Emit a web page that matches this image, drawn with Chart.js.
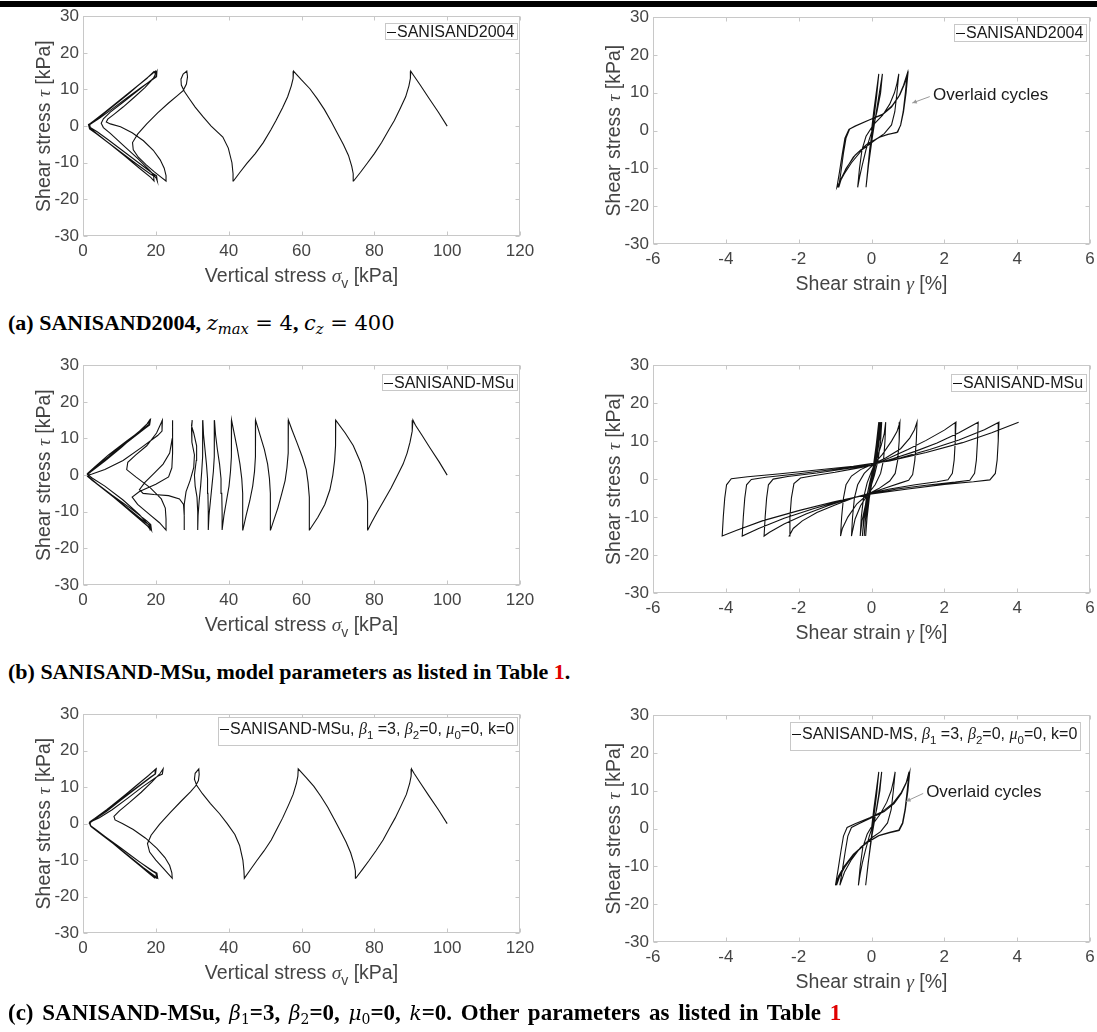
<!DOCTYPE html>
<html>
<head>
<meta charset="utf-8">
<script src="https://cdn.jsdelivr.net/npm/chart.js@4.4.1/dist/chart.umd.min.js"></script>
<style>
  html, body { margin: 0; padding: 0; background: #fff; overflow: hidden; }
  body { width: 1097px; height: 1032px; position: relative; }
  canvas { position: absolute; }
  .bar { position: absolute; left: 0; top: 1px; width: 1097px; height: 6px; background: #000; }
  .cap { position: absolute; left: 8px; font-family: "Liberation Serif", "Times New Roman", serif; font-size: 22px; line-height: 22px; white-space: nowrap; color: #000; }
  .cap .m { font-family: "DejaVu Serif", serif; font-weight: normal; font-size: 20px; }
  .cap .m.big { font-size: 21px; }
  .cap i { font-style: italic; font-weight: normal; }
  .cap sub { font-size: 0.7em; vertical-align: -0.3em; line-height: 0; }
  .red { color: #e00000; }
</style>
</head>
<body>
<div class="bar"></div>
<canvas id="pathA"></canvas>
<canvas id="loopA"></canvas>
<canvas id="pathB"></canvas>
<canvas id="loopB"></canvas>
<canvas id="pathC"></canvas>
<canvas id="loopC"></canvas>

<div class="cap" style="top:312px"><b>(a) SANISAND2004,</b> <span class="m big"><i>z</i><sub><i>max</i></sub> = 4</span><b>,</b> <span class="m big"><i>c</i><sub><i>z</i></sub> = 400</span></div>
<div class="cap" style="top:661px"><b>(b) SANISAND-MSu, model parameters as listed in Table <span class="red">1</span>.</b></div>
<div class="cap" style="top:1002px; font-size:23px; word-spacing:3px"><b>(c) SANISAND-MSu, </b><span class="m"><i>β</i><sub>1</sub></span><b>=3, </b><span class="m"><i>β</i><sub>2</sub></span><b>=0, </b><span class="m"><i>μ</i><sub>0</sub></span><b>=0, </b><span class="m"><i>k</i></span><b>=0. Other parameters as listed in Table <span class="red">1</span></b></div>

<script>
// tick values
const stressTicks = [-30, -20, -10, 0, 10, 20, 30];
const sigmaTicks = [0, 20, 40, 60, 80, 100, 120];
const strainTicks = [-6, -4, -2, 0, 2, 4, 6];

// (a) SANISAND2004 : vertical stress / shear stress
const path2004 = [
  [100,0],[97.6,3.8],[95,7.6],[92.6,11.2],[90.8,13.8],[90,15],
  [89.9,13],[89.5,11],[88.6,8],[87.2,5],[85.5,1.5],[84,-1],[82,-4.5],[80,-7.5],[78,-10.2],[76.2,-12.6],[74.3,-15],
  [74.2,-13],[73.8,-11],[72.9,-8],[71.5,-5],[69.6,-1.5],[68.3,1],[66.3,4.5],[64.3,7.5],[62.3,10.2],[60,12.6],[57.8,15],
  [57.7,13],[57.2,11],[56.2,8],[54.8,5],[53,1.5],[51.6,-1],[49.5,-4.5],[47.3,-7.5],[45,-10.2],[43.1,-12.6],[41.3,-15],
  [41.2,-13],[40.9,-10],[39.9,-6],[38.4,-3],[35.2,0],[33,2.5],[30.8,5.2],[29.1,7.6],[27.8,9.5],[27,11.2],[26.9,12.8],[27.5,14.2],[28.5,15],
  [28.7,13.5],[28.4,11.5],[27.5,9.7],[26,8.4],[23.5,6.3],[20.5,3.6],[17.5,0.6],[15,-2.2],[13.6,-4.5],[13.8,-6.5],[15.2,-8.5],[17.3,-10.5],[19.6,-12.5],[21.5,-14],[22.8,-15],
  [22.8,-13.5],[22.3,-11.5],[21.2,-9.2],[19.3,-6.6],[16.6,-4],[13.5,-1.8],[10.3,-0.2],[7.5,0.6],[6.4,1.1],[6.8,1.9],[8.5,3.2],[11,5.2],[14,7.8],[17,10.5],[19.3,13],[20.3,15],
  [20.2,13.5],[19.2,12.8],[15.5,10.2],[11.5,7.3],[7.5,4.3],[4.5,2.1],[2.3,0.7],[1.6,0.2],[2.2,-0.8],[4,-2.2],[7.5,-5],[11.5,-8.2],[15.5,-11.5],[18.6,-14],[19.5,-15],
  [19.4,-13.6],[18.4,-13],[14.5,-10.2],[10.5,-7.2],[6.5,-4.2],[3.5,-2],[1.8,-0.8],[1.5,0.4],[2.5,1],[5,2.8],[8.5,5.6],[12.5,8.8],[16.2,12],[19,14.3],[19.9,15],
  [19.8,13.5],[18.8,12.6],[15,9.6],[11,6.5],[7.5,3.8],[5.6,2],[5,0.8],[5.6,-0.4],[7.5,-2],[11,-5.2],[15,-8.8],[18.5,-12.3],[20.1,-14.2],[20.4,-15],
  [20.2,-13.6],[19,-12.8],[15,-9.8],[11,-6.8],[7,-3.8],[4,-1.6],[2,-0.4],[1.8,0.6],[3,1.5],[6,3.8],[10,7],[14,10.2],[17.5,13],[19.6,15]
];

// (a) SANISAND2004 : shear strain / shear stress
const loop2004 = [
  [0,0],[0.06,5],[0.13,10],[0.2,15],
  [0.14,9],[0.05,2],[-0.05,-5],[-0.1,-10],[-0.15,-15],
  [-0.08,-9],[0.02,-2],[0.1,3],[0.2,9],[0.3,15],
  [0.25,10],[0.15,5],[0.05,1],[-0.05,-2],[-0.15,-5],[-0.25,-9],[-0.32,-12],[-0.38,-15],
  [-0.33,-10],[-0.26,-5],[-0.15,-1.5],[0.05,1.5],[0.3,4],[0.5,7],[0.63,10],[0.7,12.5],[0.75,15],
  [0.7,10],[0.64,5],[0.55,1.5],[0.35,-0.8],[0.1,-2.5],[-0.25,-5],[-0.55,-8.5],[-0.75,-11.5],[-0.95,-15],
  [-0.88,-11],[-0.8,-6],[-0.73,-2],[-0.62,0.3],[-0.45,1.2],[-0.1,2.7],[0.3,4.2],[0.55,6.2],[0.75,9],[0.88,12],[0.98,15],
  [0.93,10],[0.87,5],[0.8,1.5],[0.72,-0.4],[0.5,-0.9],[0.25,-1.6],[-0.1,-3.4],[-0.45,-6.5],[-0.7,-10],[-0.82,-12.5],[-0.9,-15],
  [-0.84,-11],[-0.77,-6],[-0.7,-2],[-0.6,0.4],[-0.42,1.3],[-0.05,2.9],[0.3,4.3],[0.56,6.5],[0.78,9.5],[0.9,12.2],[1.0,15],
  [0.95,10],[0.88,5],[0.8,1.4],[0.7,-0.5],[0.45,-1],[0.2,-1.8],[-0.15,-3.8],[-0.5,-7],[-0.72,-10.5],[-0.85,-13],[-0.93,-15]
];

// (b) SANISAND-MSu : vertical stress / shear stress
const pathMSu = [
  [100,0],[97.8,3.6],[95.3,7.4],[93,11],[91.3,13.6],[90.6,15],
  [90.4,12],[89.8,9],[89,6],[87.9,3],[86.4,0],[84.6,-3.5],[82.6,-7],[80.7,-10.3],[79.2,-13],[78.2,-15],
  [78.2,-11],[78.1,-7.2],[77.7,-3],[77.2,0],[76.2,3.5],[74.2,8.1],[72,11.5],[69.4,15],
  [69.4,12],[69.3,8],[69.1,4],[68.6,0],[67.8,-4],[66.4,-8],[64.5,-11.5],[62.2,-15],
  [62.2,-11],[62.1,-6],[61.8,-2],[61.3,1.5],[60.2,5],[58.7,9],[57.4,12.3],[56.4,15],
  [56.4,11],[56.3,6],[56,2],[55.5,-1.5],[54.6,-5],[53.5,-9],[52.4,-12.3],[51.5,-15],
  [51.5,-10],[51.4,-5],[51.2,-1],[50.7,3],[49.8,7],[48.6,11],[47.4,15],
  [47.4,10],[47.3,5],[47.1,1],[46.6,-3],[45.8,-7],[44.8,-11],[43.9,-15],
  [43.9,-10],[43.8,-5],[43.6,-1],[43.1,3],[42.4,7],[41.6,11],[40.8,15],
  [40.8,10],[40.7,5],[40.5,1],[40.1,-3],[39.4,-7],[38.7,-11],[38.2,-15],
  [38.2,-10],[38.1,-5],[37.9,-1],[37.5,3],[36.9,7],[36.4,11],[36.1,15],
  [36.1,10],[36,5],[35.8,1],[35.4,-3],[35,-7],[34.6,-11],[34.4,-15],
  [34.4,-10],[34.3,-5],[34.2,-1],[33.9,3],[33.5,7],[33.1,11],[32.9,15],
  [32.9,10],[32.8,5],[32.6,1],[32.3,-3],[31.9,-7],[31.6,-11],[31.5,-15],
  [31.5,-10],[31.3,-6],[30.8,-3],[30.6,0],[31.1,4],[31.2,8],[30.4,11.5],[29.8,13.5],[30,15],
  [29.8,12.5],[29.9,9],[30.6,5.5],[30.4,2],[29.4,-1.5],[28.3,-4.5],[27.8,-8],[27.8,-12],[27.8,-15],
  [27.8,-11],[27.6,-8],[26.5,-6.5],[23.5,-5.6],[19.5,-5.3],[16.5,-5],[15.5,-4],[17,-2],[19.5,0.5],[22,3],[23.8,6],[24.5,10],[24.6,15],
  [24.6,11],[24.6,6],[24.4,2],[23.5,-0.5],[20,-2.5],[15.5,-4.5],[13.5,-6],[15,-8],[18,-10.5],[21,-13],[22.8,-15],
  [22.8,-12],[22.6,-9],[21.5,-6.5],[18.5,-3.5],[14.5,-0.5],[12,1.5],[12.3,3.5],[14.5,5.5],[17.5,8],[20.2,11.5],[21.8,15],
  [21.7,12],[20.5,10.8],[16,7.5],[11,4],[6,1.5],[2.5,0.3],[1.5,0],[2.5,-0.8],[6,-3],[11,-6.8],[15.5,-10.8],[18.2,-13.8],[18.8,-15],
  [18.6,-13.5],[17.5,-12.5],[13,-9],[8,-5.5],[4,-2.5],[1.6,-0.5],[1.2,0.3],[2.5,1.2],[6,3.8],[10.5,7.5],[15,11.5],[17.6,14],[18.3,15],
  [18.1,13.8],[16.5,12.6],[12,9.3],[7,5.5],[3,2],[1.3,0.5],[1.2,-0.3],[2.5,-1.4],[6,-4],[10.5,-7.8],[15,-11.6],[17.8,-14],[18.6,-15],
  [18.4,-13.7],[17,-12.8],[12.5,-9.2],[7.5,-5.3],[3.5,-2.2],[1.4,-0.4],[1.3,0.4],[3,1.8],[7,5],[11.5,8.7],[15.5,12],[18,14.3],[18.5,15],
  [18.3,13.7],[16.8,12.6],[12.3,9.1],[7.2,5.1],[3.2,1.8],[1.4,0.3],[1.3,-0.4],[2.8,-1.6],[6.5,-4.4],[11,-8],[15.3,-11.8],[18,-14.1],[18.7,-15]
];

// (b) SANISAND-MSu : shear strain / shear stress
const loopMSu = [
  [0,0],[0.06,4],[0.13,9],[0.2,15],
  [0.15,10],[0.08,5],[0,0.5],[-0.07,-4],[-0.12,-9],[-0.16,-15],
  [-0.12,-10],[-0.06,-5],[0.02,-0.5],[0.1,4],[0.17,10],[0.22,15],
  [0.18,10],[0.11,5],[0.03,1],[-0.05,-3],[-0.12,-7],[-0.17,-11],[-0.2,-15],
  [-0.16,-10],[-0.1,-5],[-0.02,-1],[0.06,3],[0.14,7],[0.2,11],[0.25,15],
  [0.21,10],[0.14,5],[0.05,1],[-0.05,-3],[-0.14,-7],[-0.21,-11],[-0.25,-15],
  [-0.21,-10],[-0.14,-5],[-0.05,-1],[0.05,3],[0.15,7],[0.23,11],[0.28,15],
  [0.25,10],[0.18,5],[0.08,1],[-0.05,-3],[-0.17,-7],[-0.26,-11],[-0.31,-15],
  [-0.28,-10],[-0.22,-5],[-0.12,-1],[0,2],[0.15,5.5],[0.27,9],[0.35,12],[0.39,15],
  [0.37,10],[0.33,5],[0.25,1.5],[0.1,-1.5],[-0.1,-4],[-0.3,-7],[-0.45,-10.5],[-0.55,-15],
  [-0.52,-10],[-0.47,-5],[-0.38,-1.5],[-0.2,1.5],[0.05,3.8],[0.3,6.5],[0.55,10],[0.7,12.5],[0.78,15],
  [0.76,10],[0.72,5],[0.65,1.5],[0.5,-0.5],[0.2,-2.5],[-0.1,-4],[-0.4,-6.5],[-0.65,-10],[-0.8,-13],[-0.85,-15],
  [-0.82,-10],[-0.77,-5],[-0.7,-1.5],[-0.55,0.8],[-0.3,2.5],[0,3.8],[0.4,5.6],[0.8,8],[1.05,10.8],[1.18,13],[1.25,15],
  [1.23,10],[1.19,5],[1.13,1.2],[1.02,-0.3],[0.8,-1],[0.4,-2.3],[0,-3.6],[-0.5,-5],[-1,-6.8],[-1.5,-8.8],[-1.9,-11],[-2.15,-13],[-2.26,-15],
  [-2.24,-10],[-2.2,-5],[-2.13,-1.2],[-1.95,0.3],[-1.6,0.9],[-1,1.8],[-0.5,2.7],[0,3.6],[0.5,5.6],[1,7.8],[1.5,10.2],[2,12.9],[2.32,15],
  [2.3,10],[2.27,5],[2.22,1.5],[2.1,-0.2],[1.8,-0.7],[1.2,-1.5],[0.5,-2.6],[0,-3.6],[-0.6,-5.2],[-1.2,-7],[-1.8,-9.2],[-2.4,-11.8],[-2.8,-14],[-2.95,-15],
  [-2.92,-10],[-2.88,-5],[-2.83,-1.5],[-2.7,0],[-2.3,0.7],[-1.5,1.6],[-0.8,2.6],[0,3.7],[0.6,5.4],[1.2,7.3],[1.8,9.5],[2.4,12.2],[2.93,15],
  [2.91,10],[2.88,5],[2.83,1.5],[2.7,-0.3],[2.3,-0.8],[1.5,-1.6],[0.7,-2.6],[0,-3.8],[-0.8,-5.6],[-1.6,-7.8],[-2.4,-10.3],[-3.1,-13],[-3.55,-15],
  [-3.52,-10],[-3.48,-5],[-3.43,-1.5],[-3.3,-0.1],[-2.9,0.5],[-2,1.4],[-1,2.6],[0,3.8],[0.8,5.6],[1.6,7.8],[2.4,10.3],[3.1,13],[3.5,15],
  [3.48,10],[3.45,5],[3.4,1.5],[3.25,-0.2],[2.8,-0.7],[2,-1.4],[1,-2.6],[0,-3.9],[-1,-5.9],[-2,-8.3],[-3,-11],[-3.7,-13.5],[-4.1,-15],
  [-4.07,-10],[-4.03,-5],[-3.98,-1.5],[-3.85,0.1],[-3.4,0.6],[-2.5,1.4],[-1.5,2.4],[-0.5,3.4],[0.5,4.8],[1.5,7],[2.5,9.6],[3.3,12.2],[4.04,15]
];

// (c) beta1=3, beta2=0, mu0=0, k=0 : vertical stress / shear stress
const pathBeta = [
  [100,0],[97.6,3.8],[95,7.6],[92.6,11.2],[90.9,13.8],[90.2,15],
  [90.1,13],[89.7,11],[88.8,8],[87.4,5],[85.7,1.5],[84.3,-1],[82.4,-4.5],[80.4,-7.5],[78.5,-10.2],[76.7,-12.6],[74.9,-15],
  [74.8,-13],[74.4,-11],[73.5,-8],[72.2,-5],[70.4,-1.5],[69.1,1],[67.2,4.5],[65.3,7.5],[63.4,10.2],[61.3,12.6],[59.1,15],
  [59,13],[58.6,11],[57.7,8],[56.4,5],[54.8,1.5],[53.5,-1],[51.7,-4.5],[49.7,-7.5],[47.7,-10.2],[46,-12.6],[44.3,-15],
  [44.2,-13],[43.9,-10],[43,-6],[41.7,-3],[39.6,0],[37.5,2.7],[35,5.5],[32.8,8.2],[31.2,10.5],[30.6,12.2],[30.8,13.8],[31.8,15],
  [31.9,13.5],[31.7,11.8],[30.9,10.3],[29.5,8.7],[27,6.2],[24,3.1],[21,-0.2],[18.7,-3.2],[17.7,-5.5],[18.3,-7.8],[20,-10],[22,-12.2],[23.6,-14],[24.5,-15],
  [24.4,-13.5],[23.8,-11.5],[22.5,-9.3],[20.3,-6.8],[17.2,-4],[13.8,-1.6],[10.8,0],[8.8,1],[8.5,2],[10,3.5],[12.8,5.8],[16,8.6],[19,11.5],[21.2,13.8],[22,15],
  [21.8,13.6],[20.5,13],[16.5,10.2],[12.3,7],[8,3.8],[4.5,1.6],[2.3,0.6],[1.7,0.1],[2.3,-0.9],[4.5,-2.6],[8.3,-5.5],[12.5,-8.8],[16.5,-12],[19.5,-14.2],[20.5,-15],
  [20.3,-13.6],[19.2,-13],[15.2,-10.3],[11,-7.2],[7,-4.3],[4,-2],[2.2,-0.8],[1.8,0.4],[2.8,1.1],[5.5,3],[9,5.8],[13,9],[16.8,12.2],[19.3,14.3],[20.1,15],
  [19.9,13.6],[18.8,12.8],[14.8,9.8],[10.5,6.5],[6.5,3.4],[3.5,1.4],[2,0.4],[2,-0.5],[3.3,-1.6],[6.5,-4],[10.5,-7.3],[14.5,-10.6],[18.2,-13.6],[20.3,-15],
  [20.1,-13.7],[18.8,-12.9],[14.6,-9.8],[10.3,-6.6],[6.3,-3.7],[3.5,-1.6],[2,-0.5],[1.9,0.5],[3.2,1.4],[6.5,3.8],[10.5,7],[14.5,10.3],[18,13.2],[20,15],
  [19.8,13.6],[18.6,12.8],[14.5,9.7],[10.2,6.4],[6.2,3.3],[3.3,1.2],[1.9,0.2],[2.1,-0.7],[3.6,-1.8],[6.8,-4.2],[10.8,-7.5],[14.8,-10.8],[18.2,-13.7],[19.8,-15]
];

// (c) beta1=3, beta2=0, mu0=0, k=0 : shear strain / shear stress
const loopBeta = [
  [0,0],[0.06,5],[0.13,10],[0.2,15],
  [0.14,9],[0.05,2],[-0.04,-5],[-0.1,-10],[-0.16,-15],
  [-0.09,-9],[0.01,-2],[0.1,3],[0.2,9],[0.28,15],
  [0.23,10],[0.14,5],[0.04,1],[-0.06,-2],[-0.16,-5.5],[-0.25,-9],[-0.31,-12],[-0.36,-15],
  [-0.31,-10],[-0.24,-5],[-0.12,-1.5],[0.06,1.5],[0.25,4],[0.42,7],[0.54,10],[0.6,12.5],[0.65,15],
  [0.6,10],[0.54,5],[0.44,1.5],[0.25,-0.8],[0,-2.5],[-0.3,-5],[-0.55,-8.2],[-0.74,-11.5],[-0.87,-15],
  [-0.8,-11],[-0.72,-6],[-0.65,-2],[-0.55,0.3],[-0.35,1.3],[0,2.9],[0.35,4.5],[0.62,6.6],[0.82,9.3],[0.95,12],[1.03,15],
  [0.98,10],[0.92,5],[0.85,1.5],[0.75,-0.4],[0.5,-1],[0.2,-1.8],[-0.15,-3.8],[-0.5,-6.8],[-0.75,-10],[-0.9,-12.5],[-0.99,-15],
  [-0.92,-11],[-0.84,-6],[-0.77,-2],[-0.67,0.3],[-0.45,1.3],[-0.05,2.9],[0.3,4.5],[0.6,6.8],[0.82,9.6],[0.96,12.3],[1.05,15],
  [1,10],[0.93,5],[0.86,1.4],[0.76,-0.5],[0.5,-1.1],[0.2,-1.9],[-0.15,-3.9],[-0.5,-7],[-0.74,-10.3],[-0.88,-12.8],[-0.96,-15]
];

// labels
const titleTau = [{ t: 'Shear stress ' }, { t: 'τ', it: true }, { t: ' [kPa]' }];
const titleSigma = [{ t: 'Vertical stress ' }, { t: 'σ', it: true }, { t: 'v', sub: true }, { t: ' [kPa]' }];
const titleGamma = [{ t: 'Shear strain ' }, { t: 'γ', it: true }, { t: ' [%]' }];
const legend2004 = [{ t: 'SANISAND2004' }];
const legendMSu = [{ t: 'SANISAND-MSu' }];
const betaPart = [{ t: 'β', it: true }, { t: '1', sub: true }, { t: ' =3, ' }, { t: 'β', it: true }, { t: '2', sub: true }, { t: '=0, ' }, { t: 'μ', it: true }, { t: '0', sub: true }, { t: '=0, k=0' }];
const legendBetaPath = [{ t: 'SANISAND-MSu, ' }].concat(betaPart);
const legendBetaLoop = [{ t: 'SANISAND-MS, ' }].concat(betaPart);
const noteText = 'Overlaid cycles';

const SANS = '"Liberation Sans", Arial, sans-serif';
const GREEK = '"Liberation Serif", serif';

function partFont(p, size) {
  const s = p.sub ? size * 0.72 : size;
  return (p.it ? 'italic ' : '') + s + 'px ' + (p.it ? GREEK : SANS);
}

function richWidth(ctx, parts, size) {
  let w = 0;
  parts.forEach(p => { ctx.font = partFont(p, size); w += ctx.measureText(p.t).width; });
  return w;
}

function drawRich(ctx, parts, x, y, size, center) {
  let cx = center ? x - richWidth(ctx, parts, size) / 2 : x;
  ctx.textBaseline = 'alphabetic';
  ctx.textAlign = 'left';
  parts.forEach(p => {
    ctx.font = partFont(p, size);
    ctx.fillText(p.t, cx, y + (p.sub ? size * 0.32 : 0));
    cx += ctx.measureText(p.t).width;
  });
}

function makePanel(p) {
  const x0 = p.area[0] - 83;
  const y0 = p.area[1] - 12;
  const w = p.area[2] - x0 + p.padRight;
  const h = p.area[3] - y0 + 60;
  const cv = document.getElementById(p.id);
  cv.width = w; cv.height = h;
  cv.style.left = x0 + 'px'; cv.style.top = y0 + 'px';
  cv.style.width = w + 'px'; cv.style.height = h + 'px';

  const decor = {
    id: 'decor' + p.id,
    afterDatasetsDraw(chart) {
      const { ctx, chartArea: a, scales: { x, y } } = chart;
      ctx.save();
      // box and inward ticks
      ctx.strokeStyle = '#c8c8c8';
      ctx.lineWidth = 1;
      const L = Math.round(a.left) + 0.5, R = Math.round(a.right) - 0.5;
      const T = Math.round(a.top) + 0.5, B = Math.round(a.bottom) - 0.5;
      ctx.strokeRect(L, T, R - L, B - T);
      ctx.beginPath();
      x.ticks.forEach(t => {
        const px = Math.round(x.getPixelForValue(t.value)) + 0.5;
        ctx.moveTo(px, B); ctx.lineTo(px, B - 4);
        ctx.moveTo(px, T); ctx.lineTo(px, T + 4);
      });
      y.ticks.forEach(t => {
        const py = Math.round(y.getPixelForValue(t.value)) + 0.5;
        ctx.moveTo(L, py); ctx.lineTo(L + 4, py);
        ctx.moveTo(R, py); ctx.lineTo(R - 4, py);
      });
      ctx.stroke();

      // axis titles
      ctx.fillStyle = '#444';
      drawRich(ctx, p.xTitle, (a.left + a.right) / 2, a.bottom + 46, 19.5, true);
      ctx.save();
      ctx.translate(a.left - 33, (a.top + a.bottom) / 2);
      ctx.rotate(-Math.PI / 2);
      drawRich(ctx, titleTau, 0, 0, 19.5, true);
      ctx.restore();

      // legend
      const tw = richWidth(ctx, p.legend, 16);
      const bw = Math.round(tw + 15), bh = p.legendH;
      const bx = Math.round(a.right - p.legendGap - bw), by = Math.round(a.top + p.legendTop);
      ctx.fillStyle = '#fff';
      ctx.fillRect(bx, by, bw, bh);
      ctx.strokeStyle = '#c8c8c8';
      ctx.strokeRect(bx + 0.5, by + 0.5, bw, bh);
      const ly = by + (bh <= 17 ? 9 : 12);
      ctx.strokeStyle = '#111';
      ctx.beginPath(); ctx.moveTo(bx + 2, ly + 0.5); ctx.lineTo(bx + 11, ly + 0.5); ctx.stroke();
      ctx.fillStyle = '#1a1a1a';
      drawRich(ctx, p.legend, bx + 12, by + (bh <= 17 ? 14 : 17), 16, false);

      // annotation
      if (p.note) {
        const n = p.note;
        ctx.fillStyle = '#1a1a1a';
        ctx.font = '17px ' + SANS;
        ctx.textBaseline = 'middle';
        ctx.fillText(noteText, x.getPixelForValue(n.tx), y.getPixelForValue(n.ty));
        const ax1 = x.getPixelForValue(n.from[0]), ay1 = y.getPixelForValue(n.from[1]);
        const ax2 = x.getPixelForValue(n.to[0]), ay2 = y.getPixelForValue(n.to[1]);
        ctx.strokeStyle = '#9a9a9a';
        ctx.fillStyle = '#9a9a9a';
        ctx.beginPath(); ctx.moveTo(ax1, ay1); ctx.lineTo(ax2, ay2); ctx.stroke();
        const ang = Math.atan2(ay2 - ay1, ax2 - ax1);
        ctx.beginPath();
        ctx.moveTo(ax2, ay2);
        ctx.lineTo(ax2 - 5 * Math.cos(ang - 0.45), ay2 - 5 * Math.sin(ang - 0.45));
        ctx.lineTo(ax2 - 5 * Math.cos(ang + 0.45), ay2 - 5 * Math.sin(ang + 0.45));
        ctx.closePath(); ctx.fill();
      }
      ctx.restore();
    }
  };

  const tickFont = { family: SANS, size: 17 };
  new Chart(cv, {
    type: 'scatter',
    data: {
      datasets: [{
        data: p.data.map(([x, y]) => ({ x, y })),
        showLine: true,
        borderColor: '#111',
        borderWidth: 1.1,
        pointRadius: 0,
        fill: false,
        tension: 0
      }]
    },
    options: {
      responsive: false,
      animation: false,
      events: [],
      layout: { padding: { top: 12, right: p.padRight, left: 0, bottom: 0 } },
      plugins: { legend: { display: false }, tooltip: { enabled: false } },
      scales: {
        x: {
          type: 'linear',
          min: p.xTicks[0],
          max: p.xTicks[p.xTicks.length - 1],
          afterBuildTicks: s => { s.ticks = p.xTicks.map(v => ({ value: v })); },
          afterFit: s => { s.height = 60; },
          ticks: { font: tickFont, color: '#444', padding: 5, maxRotation: 0, autoSkip: false },
          grid: { display: false, drawTicks: false },
          border: { display: false }
        },
        y: {
          type: 'linear',
          min: -30,
          max: 30,
          afterBuildTicks: s => { s.ticks = stressTicks.map(v => ({ value: v })); },
          afterFit: s => { s.width = 83; },
          ticks: { font: tickFont, color: '#444', padding: 4, autoSkip: false },
          grid: { display: false, drawTicks: false },
          border: { display: false }
        }
      }
    },
    plugins: [decor]
  });
}

const panels = [
  { id: 'pathA', data: path2004, area: [83, 14, 520, 236], padRight: 20, xTicks: sigmaTicks, xTitle: titleSigma, legend: legend2004, legendH: 16, legendTop: 7, legendGap: 3 },
  { id: 'loopA', data: loop2004, area: [653, 15, 1090, 244], padRight: 12, xTicks: strainTicks, xTitle: titleGamma, legend: legend2004, legendH: 17, legendTop: 7, legendGap: 4,
    note: { tx: 1.69, ty: 9.3, from: [1.6, 9.0], to: [1.12, 7.3] } },
  { id: 'pathB', data: pathMSu, area: [83, 363, 520, 585], padRight: 20, xTicks: sigmaTicks, xTitle: titleSigma, legend: legendMSu, legendH: 16, legendTop: 9, legendGap: 3 },
  { id: 'loopB', data: loopMSu, area: [653, 363, 1090, 593], padRight: 12, xTicks: strainTicks, xTitle: titleGamma, legend: legendMSu, legendH: 17, legendTop: 9, legendGap: 4 },
  { id: 'pathC', data: pathBeta, area: [83, 712, 520, 933], padRight: 20, xTicks: sigmaTicks, xTitle: titleSigma, legend: legendBetaPath, legendH: 28, legendTop: 3, legendGap: 3 },
  { id: 'loopC', data: loopBeta, area: [653, 713, 1090, 942], padRight: 12, xTicks: strainTicks, xTitle: titleGamma, legend: legendBetaLoop, legendH: 28, legendTop: 7, legendGap: 10,
    note: { tx: 1.5, ty: 9.6, from: [1.42, 9.3], to: [0.95, 7.2] } }
];

panels.forEach(makePanel);
</script>
</body>
</html>
